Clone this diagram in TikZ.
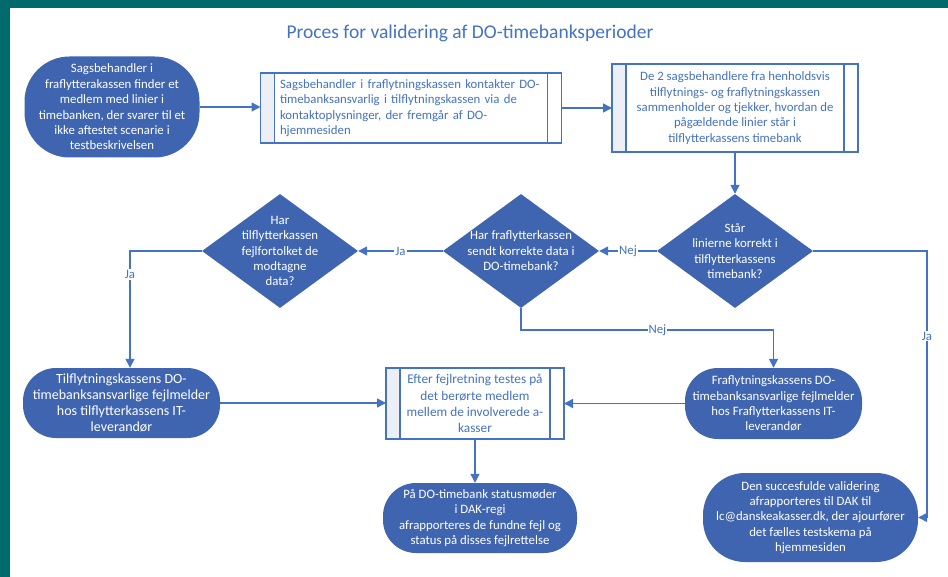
\documentclass[tikz,border=0pt]{standalone}
\usepackage{fontspec}
\setmainfont{Carlito}
\usepackage{tikz}
\usetikzlibrary{shapes, arrows.meta, positioning}

\definecolor{frameteal}{RGB}{0,105,108}
\definecolor{boxblue}{RGB}{64,101,176}
\definecolor{lineblue}{RGB}{68,114,196}
\definecolor{stripgray}{RGB}{236,239,245}

\tikzset{
    every node/.style={font=\fontsize{12.8}{15.4}\selectfont},
    bigtext/.style={font=\fontsize{14}{16}\selectfont},
    terminal/.style={rectangle, rounded corners=#1, fill=boxblue, text=white, align=center, inner sep=0pt},
    procbox/.style={rectangle, draw=lineblue, line width=1.1pt, fill=white, text=lineblue, inner sep=0pt, outer sep=0pt},
    sidebar/.style={draw=lineblue, line width=1.1pt},
    decision/.style={diamond, fill=boxblue, inner sep=0pt, minimum width=156pt, minimum height=114pt},
    dtext/.style={text=white, align=center},
    flow/.style={draw=lineblue, line width=1.4pt, -{Triangle[length=9pt,width=9pt]}},
    answer/.style={fill=white, text=lineblue, inner sep=1pt}
}

\begin{document}
\begin{tikzpicture}[x=1pt, y=-1pt]
        % frame and page
        \fill[frameteal] (0,0) rectangle (948,577);
        \fill[white] (10,8) rectangle (948,577);
        \useasboundingbox (0,0) rectangle (948,577);

        \node[text=lineblue, font=\fontsize{19.5}{23}\selectfont] (title) at (470,33) {Proces for validering af DO-timebanksperioder};

        % first row
        \node[terminal=45pt, minimum width=175pt, minimum height=101pt] (start) at (112,107)
            {Sagsbehandler i\\ fraflytterakassen finder et\\ medlem med linier i\\ timebanken, der svarer til et\\ ikke aftestet scenarie i\\ testbeskrivelsen};
        \node[procbox, minimum width=301pt, minimum height=70pt, text width=262pt, align=left] (contact) at (411,108)
            {Sagsbehandler i fraflytningskassen kontakter DO-\\ timebanksansvarlig i tilflytningskassen via de\\ kontaktoplysninger, der fremgår af DO-\\ hjemmesiden};
        \node[procbox, minimum width=246pt, minimum height=88pt, align=center] (compare) at (735,108)
            {De 2 sagsbehandlere fra henholdsvis\\ tilflytnings- og fraflytningskassen\\ sammenholder og tjekker, hvordan de\\ pågældende linier står i\\ tilflytterkassens timebank};

        % decisions
        \node[decision, label={[dtext]center:Står\\ linierne korrekt i\\ tilflytterkassens\\ timebank?}] (okline) at (735,251) {};
        \node[decision, label={[dtext]center:Har fraflytterkassen\\ sendt korrekte data i\\ DO-timebank?}] (okdata) at (521,251) {};
        \node[decision, label={[dtext]center:Har\\ tilflytterkassen\\ fejlfortolket de\\ modtagne\\ data?}] (misread) at (280,251) {};

        % error handling
        \node[terminal=33pt, bigtext, minimum width=197pt, minimum height=70pt] (tilerr) at (121.5,403)
            {Tilflytningskassens DO-\\ timebanksansvarlige fejlmelder\\ hos tilflytterkassens IT-\\ leverandør};
        \node[procbox, font=\fontsize{13.3}{16.3}\selectfont, minimum width=178pt, minimum height=71pt, align=center] (retest) at (475,403.5)
            {Efter fejlretning testes på\\ det berørte medlem\\ mellem de involverede a-\\ kasser};
        \node[terminal=33pt, minimum width=177pt, minimum height=71pt] (fraerr) at (773.5,403.5)
            {Fraflytningskassens DO-\\ timebanksansvarlige fejlmelder\\ hos Fraflytterkassens IT-\\ leverandør};

        % side bars of the process boxes
        \foreach \proc in {contact, compare, retest} {
            \fill[stripgray] ([shift={(0.6,0.6)}]\proc.north west) rectangle ([xshift=14pt, yshift=0.6pt]\proc.south west);
            \draw[sidebar] ([xshift=14pt]\proc.north west) -- ([xshift=14pt]\proc.south west);
            \draw[sidebar] ([xshift=-14pt]\proc.north east) -- ([xshift=-14pt]\proc.south east);
        }

        % reporting
        \node[terminal=33pt, minimum width=194pt, minimum height=70pt] (status) at (480,518)
            {På DO-timebank statusmøder\\ i DAK-regi\\ afrapporteres de fundne fejl og\\ status på disses fejlrettelse};
        \node[terminal=42pt, minimum width=215pt, minimum height=89pt] (success) at (810.5,517.5)
            {Den succesfulde validering\\ afrapporteres til DAK til\\ lc@danskeakasser.dk, der ajourfører\\ det fælles testskema på\\ hjemmesiden};

        \coordinate (jaturn) at (927,251);
        \coordinate (nejturn) at (521,330);

        % connectors
        \draw[flow] (start.east) -- (start.east -| contact.west);
        \draw[flow] (contact.east) -- (compare.west);
        \draw[flow] (compare.south) -- (okline.north);
        \draw[flow] (okline.west) -- node[answer] {Nej} (okdata.east);
        \draw[flow] (okdata.west) -- node[answer] {Ja} (misread.east);
        \draw[flow] (misread.west) -| node[answer, pos=0.6] {Ja} ([xshift=8.5pt]tilerr.north);
        \draw[flow] (okdata.south) -- (nejturn) -| node[answer, pos=0.27] {Nej} (fraerr.north);
        \draw[flow] (okline.east) -- (jaturn) |- node[answer, pos=0.16] {Ja} (success.east);
        \draw[flow] (tilerr.east) -- (tilerr.east -| retest.west);
        \draw[flow] (fraerr.west) -- (fraerr.west -| retest.east);
        \draw[flow] (retest.south) -- (retest.south |- status.north);
    \end{tikzpicture}
\end{document}
